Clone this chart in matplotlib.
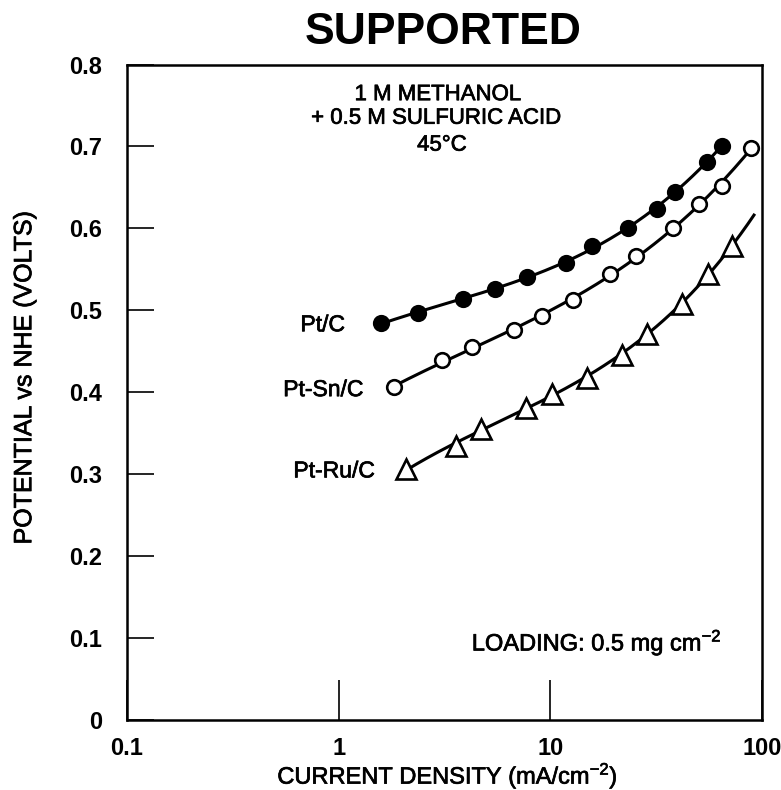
import numpy as np
import matplotlib
matplotlib.use("Agg")
import matplotlib.pyplot as plt
import matplotlib.patheffects as pe

plt.rcParams['font.family'] = ['Liberation Sans', 'DejaVu Sans']

# ---- data ----
ptc_x = [1.58, 2.36, 3.86, 5.47, 7.80, 11.8, 15.7, 23.4, 31.8, 38.8, 54.7, 64.4]
ptc_y = [0.484, 0.497, 0.514, 0.526, 0.541, 0.558, 0.578, 0.601, 0.624, 0.644, 0.681, 0.701]

ptsn_x = [1.83, 3.07, 4.28, 6.73, 9.14, 12.8, 19.2, 25.5, 37.8, 50.4, 64.4, 88.5]
ptsn_y = [0.406, 0.439, 0.455, 0.476, 0.493, 0.512, 0.544, 0.566, 0.601, 0.630, 0.652, 0.698]

ptru_x = [2.08, 3.57, 4.69, 7.64, 10.2, 14.9, 21.8, 28.5, 41.7, 55.7, 71.8]
ptru_y = [0.306, 0.334, 0.355, 0.381, 0.398, 0.418, 0.446, 0.471, 0.508, 0.544, 0.578]

curve_end = {"Pt/C": 64.4, "Pt-Sn/C": 88.5, "Pt-Ru/C": 92.5}

x_ticks = [0.1, 1, 10, 100]
x_ticklabels = ["0.1", "1", "10", "100"]
y_ticks = [0, 0.1, 0.2, 0.3, 0.4, 0.5, 0.6, 0.7, 0.8]
y_ticklabels = ["0", "0.1", "0.2", "0.3", "0.4", "0.5", "0.6", "0.7", "0.8"]

heavy = [pe.withStroke(linewidth=0.5, foreground='black')]

fig = plt.figure(figsize=(7.81, 7.90), dpi=100)
ax = fig.add_axes([127/781, 1-720/790, (762-127)/781, (720-64.5)/790])

def smooth(xs, ys, xend):
    lx = np.log10(xs)
    c = np.polyfit(lx, ys, 3)
    xx = np.linspace(lx[0], np.log10(xend), 200)
    return 10**xx, np.polyval(c, xx)

lw = 2.2
for name, xs, ys, mk, fc, ms in [
    ("Pt/C", ptc_x, ptc_y, 'o', 'black', 10.5),
    ("Pt-Sn/C", ptsn_x, ptsn_y, 'o', 'white', 10.5),
    ("Pt-Ru/C", ptru_x, ptru_y, '^', 'white', 14),
]:
    cx, cy = smooth(xs, ys, curve_end[name])
    ax.plot(cx, cy, color='black', lw=lw, zorder=2, solid_capstyle='butt')
    ax.plot(xs, ys, linestyle='none', marker=mk, markersize=ms,
            markerfacecolor=fc, markeredgecolor='black', markeredgewidth=1.9,
            zorder=3)

ax.set_xscale('log')
ax.set_xlim(0.1, 100)
ax.set_ylim(0, 0.8)
ax.set_xticks(x_ticks)
ax.set_xticklabels(x_ticklabels, fontsize=17, fontweight='bold')
ax.xaxis.set_minor_locator(matplotlib.ticker.NullLocator())
ax.set_yticks(y_ticks)
ax.set_yticklabels(y_ticklabels, fontsize=17, fontweight='bold')

ax.tick_params(axis='y', direction='in', length=19.5, width=1.2, pad=18)
ax.tick_params(axis='x', direction='in', length=29, width=1.2, pad=12)
for s in ax.spines.values():
    s.set_linewidth(1.8)

ax.set_xlabel("CURRENT DENSITY (mA/cm$^{\\mathregular{-2}}$)", fontsize=17, path_effects=heavy)
ax.xaxis.set_label_coords(0.505, -0.061)
ax.set_ylabel("POTENTIAL vs NHE (VOLTS)", fontsize=18, path_effects=heavy)
ax.yaxis.set_label_coords(-0.143, 0.522)

fig.text(443/781, 1-32/790, "SUPPORTED", fontsize=32, fontweight='bold',
         ha='center', va='center')

ax.text(0.490, 0.954, "1 M METHANOL", transform=ax.transAxes, fontsize=16,
        ha='center', va='center', path_effects=heavy)
ax.text(0.487, 0.918, "+ 0.5 M SULFURIC ACID", transform=ax.transAxes, fontsize=16,
        ha='center', va='center', path_effects=heavy)
ax.text(0.496, 0.877, "45°C", transform=ax.transAxes, fontsize=16,
        ha='center', va='center', path_effects=heavy)
ax.text(0.543, 0.1185, "LOADING: 0.5 mg cm$^{\\mathregular{-2}}$", transform=ax.transAxes,
        fontsize=17, ha='left', va='center', path_effects=heavy)

ax.text(0.343, 0.603, "Pt/C", transform=ax.transAxes, fontsize=16.5,
        ha='right', va='center', path_effects=heavy)
ax.text(0.372, 0.504, "Pt-Sn/C", transform=ax.transAxes, fontsize=16.5,
        ha='right', va='center', path_effects=heavy)
ax.text(0.390, 0.380, "Pt-Ru/C", transform=ax.transAxes, fontsize=16.5,
        ha='right', va='center', path_effects=heavy)

fig.savefig("out.png", dpi=100)
